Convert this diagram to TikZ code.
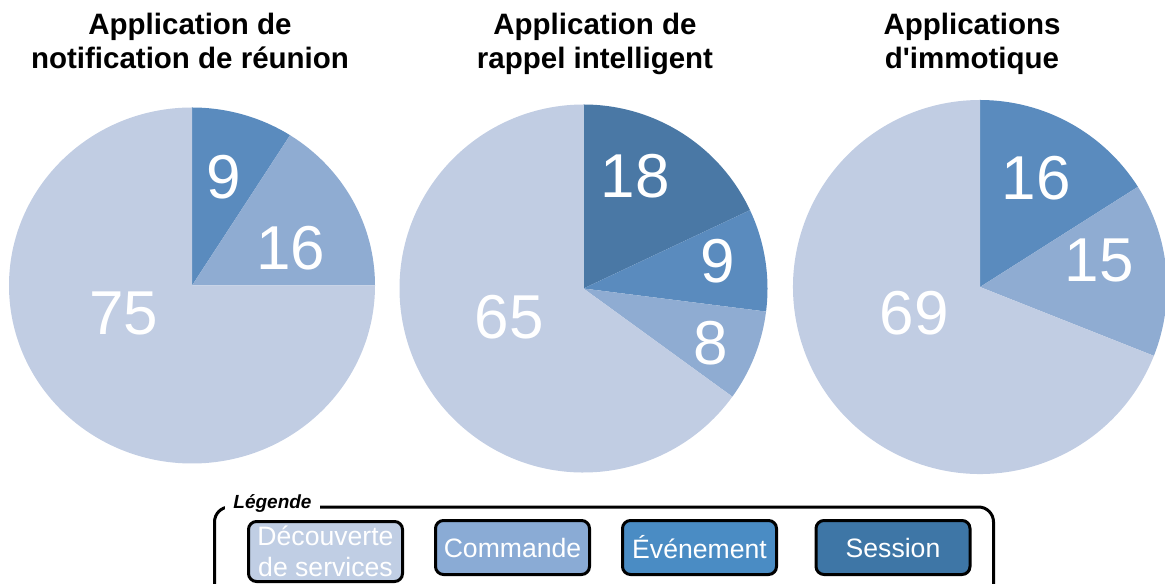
\documentclass[tikz,border=0pt]{standalone}
\usepackage{fontspec}
\setmainfont{Liberation Sans}[Ligatures=TeXOff]
% pie colours
\definecolor{pdecouv}{HTML}{C1CDE3}
\definecolor{pcomm}{HTML}{8FACD2}
\definecolor{pevent}{HTML}{5A8BBE}
\definecolor{psession}{HTML}{4A78A5}
% legend colours
\definecolor{ldecouv}{HTML}{C0CEE4}
\definecolor{lcomm}{HTML}{8AABD5}
\definecolor{levent}{HTML}{4A8CC4}
\definecolor{lsession}{HTML}{3E76A6}
\begin{document}
\begin{tikzpicture}[x=0.5pt,y=0.5pt]
	\tikzset{slicenum/.style = {text=white, inner sep=0, font=\fontsize{31}{31}\selectfont}}
	\tikzset{title/.style = {align=center, anchor=north, inner sep=0, font=\bfseries\fontsize{14.75}{16.7}\selectfont}}
	\tikzset{legbox/.style = {draw, line width=1.5pt, rounded corners=4pt, text=white, minimum width=77pt, minimum height=27pt, inner sep=0, align=center, font=\fontsize{13.3}{15.5}\selectfont}}
	\useasboundingbox (0,0) rectangle (1165,583);
	\clip (0,0) rectangle (1165,583);
	% titles
	\node[title] (t1) at (190,570) {Application de\\notification de réunion};
	\node[title] (t2) at (595,570) {Application de\\rappel intelligent};
	\node[title] (t3) at (972,570) {Applications\\d'immotique};
	% pie 1
	\coordinate (c1) at (192,297.5);
	\foreach \a/\b/\col in {90/57.6/pevent, 57.6/0/pcomm, 0/-270/pdecouv}
		\fill[\col] (c1) -- +(\a:183 and 178) arc[start angle=\a, end angle=\b, x radius=183, y radius=178] -- cycle;
	\node[slicenum] (p1a) at (224,406) {9};
	\node[slicenum] (p1b) at (291,335) {16};
	\node[slicenum] (p1c) at (124,270) {75};
	% pie 2
	\coordinate (c2) at (583.5,294.5);
	\foreach \a/\b/\col in {90/25.2/psession, 25.2/-7.2/pevent, -7.2/-36/pcomm, -36/-270/pdecouv}
		\fill[\col] (c2) -- +(\a:184) arc[start angle=\a, end angle=\b, radius=184] -- cycle;
	\node[slicenum] (p2a) at (635,407) {18};
	\node[slicenum] (p2b) at (718,322) {9};
	\node[slicenum] (p2c) at (711,240) {8};
	\node[slicenum] (p2d) at (509,266) {65};
	% pie 3
	\coordinate (c3) at (980,296);
	\foreach \a/\b/\col in {90/32.4/pevent, 32.4/-21.6/pcomm, -21.6/-270/pdecouv}
		\fill[\col] (c3) -- +(\a:187) arc[start angle=\a, end angle=\b, radius=187] -- cycle;
	\node[slicenum] (p3a) at (1036,405) {16};
	\node[slicenum] (p3b) at (1099,323) {15};
	\node[slicenum] (p3c) at (914,270) {69};
	% legend
	\draw[line width=1.5pt, rounded corners=7.5pt] (214.5,-40) rectangle (993.5,76);
	\node[fill=white, inner xsep=4pt, inner ysep=1pt, anchor=base west, font=\bfseries\itshape\fontsize{9.5}{9.5}\selectfont] (legtitle) at (225,75) {Légende};
	\node[legbox, fill=ldecouv, minimum height=30pt] (bdecouv) at (325.5,31.5) {Découverte\\de services};
	\node[legbox, fill=lcomm] (bcomm) at (512.5,35.5) {Commande};
	\node[legbox, fill=levent] (bevent) at (699.5,35.5) {Événement};
	\node[legbox, fill=lsession] (bsession) at (893,35.5) {Session};
\end{tikzpicture}
\end{document}
